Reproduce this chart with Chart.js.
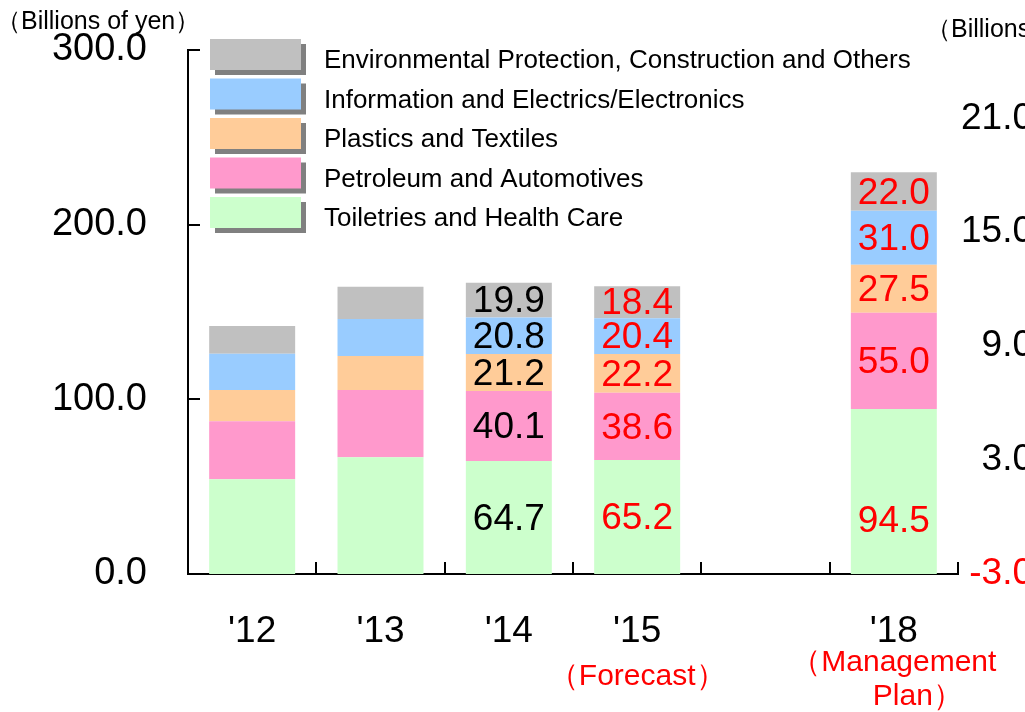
<!DOCTYPE html>
<html>
<head>
<meta charset="utf-8">
<script src="https://cdn.jsdelivr.net/npm/chart.js@4.4.1/dist/chart.umd.min.js"></script>
<style>
  html, body { margin: 0; padding: 0; overflow: hidden; background: #fff; }
  #wrap { position: relative; width: 1040px; height: 712px; }
</style>
</head>
<body>
<div id="wrap"><canvas id="c"></canvas></div>
<script>
  "use strict";

  const years = ["'12", "'13", "'14", "'15", "", "'18"];
  const yearNotes = [null, null, null, ["（Forecast）"], null, ["（Management", "Plan）"]];

  const segNames = [
    "Toiletries and Health Care",
    "Petroleum and Automotives",
    "Plastics and Textiles",
    "Information and Electrics/Electronics",
    "Environmental Protection, Construction and Others",
  ];
  const segColors = ["#CCFFCC", "#FF99CC", "#FFCC99", "#99CCFF", "#C0C0C0"];

  const toiletries = [54.2, 66.8, 64.7, 65.2, null, 94.5];
  const petroleum = [33.3, 38.5, 40.1, 38.6, null, 55.0];
  const plastics = [17.8, 19.5, 21.2, 22.2, null, 27.5];
  const electronics = [20.8, 21.2, 20.8, 20.4, null, 31.0];
  const environment = [15.9, 18.4, 19.9, 18.4, null, 22.0];

  // which years show value labels, and in what colour
  const labelColors = [null, null, "#000000", "#FF0000", null, "#FF0000"];

  const leftTicks = [0, 100, 200, 300];
  const rightTicks = [-3, 3, 9, 15, 21];

  const FONT = '"Liberation Sans", Arial, sans-serif';
  const RED = "#FF0000";

  const seriesList = [toiletries, petroleum, plastics, electronics, environment];

  const axisMarks = {
    id: "axisMarks",
    afterDatasetsDraw(chart) {
      const ctx = chart.ctx;
      const { left, bottom } = chart.chartArea;
      const y = chart.scales.y;
      const x = chart.scales.x;
      ctx.save();
      ctx.strokeStyle = "#000";
      ctx.lineWidth = 2;
      ctx.beginPath();
      leftTicks.forEach(function (v) {
        const py = Math.round(y.getPixelForValue(v));
        ctx.moveTo(left, py);
        ctx.lineTo(left + 12, py);
      });
      for (let i = 1; i <= years.length; i++) {
        const px = Math.round(x.getPixelForValue(i - 0.5));
        ctx.moveTo(px, bottom);
        ctx.lineTo(px, bottom - 12);
      }
      ctx.stroke();
      ctx.restore();
    },
  };

  const barLabels = {
    id: "barLabels",
    afterDatasetsDraw(chart) {
      const ctx = chart.ctx;
      ctx.save();
      ctx.font = "37px " + FONT;
      ctx.textAlign = "center";
      ctx.textBaseline = "middle";
      chart.data.datasets.forEach(function (ds, di) {
        const meta = chart.getDatasetMeta(di);
        meta.data.forEach(function (bar, i) {
          const col = labelColors[i];
          const v = ds.data[i];
          if (!col || v == null) return;
          // the plan year's bottom label sits a bit lower in the source
          const dy = (i === 5 && di === 0) ? 28 : 0;
          ctx.fillStyle = col;
          ctx.fillText(v.toFixed(1), bar.x, (bar.y + bar.base) / 2 + 2 + dy);
        });
      });
      ctx.restore();
    },
  };

  const extras = {
    id: "extras",
    afterDraw(chart) {
      const ctx = chart.ctx;
      const x = chart.scales.x;
      ctx.save();

      // unit captions
      ctx.fillStyle = "#000";
      ctx.font = "25px " + FONT;
      ctx.textBaseline = "middle";
      ctx.textAlign = "left";
      ctx.fillText("（Billions of yen）", -4, 22);
      ctx.fillText("（Billions of yen）", 926, 30);

      // red notes under years
      ctx.fillStyle = RED;
      ctx.font = "30px " + FONT;
      ctx.textAlign = "center";
      yearNotes.forEach(function (lines, i) {
        if (!lines) return;
        const px = x.getPixelForValue(i);
        lines.forEach(function (t, k) {
          ctx.fillText(t, px + (k === 0 ? 0 : 24), 677 + k * 34 - (lines.length > 1 ? 14 : 0));
        });
      });

      // legend, top row is the top of the stack
      ctx.font = "26px " + FONT;
      ctx.textAlign = "left";
      for (let r = 0; r < segNames.length; r++) {
        const s = segNames.length - 1 - r;
        const top = 39 + r * 39.5;
        ctx.fillStyle = "#808080";
        ctx.fillRect(215, top + 5, 91, 31);
        ctx.fillStyle = segColors[s];
        ctx.fillRect(210, top, 91, 31);
        ctx.fillStyle = "#000";
        ctx.fillText(segNames[s], 324, top + 22);
      }
      ctx.restore();
    },
  };

  function noVertPad(s) {
    s.paddingTop = 0;
    s.paddingBottom = 0;
  }

  new Chart(document.getElementById("c"), {
    type: "bar",
    data: {
      labels: years,
      datasets: seriesList.map(function (vals, i) {
        return {
          label: segNames[i],
          data: vals,
          backgroundColor: segColors[i],
          borderWidth: 0,
          categoryPercentage: 1,
          barPercentage: 0.67,
          yAxisID: "y",
        };
      }),
    },
    options: {
      responsive: true,
      maintainAspectRatio: false,
      animation: false,
      layout: { padding: { top: 50, right: 7, left: 0, bottom: 0 } },
      plugins: {
        legend: { display: false },
        tooltip: { enabled: false },
      },
      scales: {
        x: {
          stacked: true,
          grid: { display: false, drawTicks: false },
          border: { display: true, color: "#000", width: 2 },
          ticks: {
            color: "#000",
            font: { family: FONT, size: 37 },
            padding: 36,
            maxRotation: 0,
            autoSkip: false,
          },
          afterFit(s) { s.height = 138; },
        },
        y: {
          stacked: true,
          min: 0,
          max: 300,
          grid: { display: false, drawTicks: false },
          border: { display: true, color: "#000", width: 2 },
          afterBuildTicks(s) { s.ticks = leftTicks.map(function (v) { return { value: v }; }); },
          ticks: {
            color: "#000",
            font: { family: FONT, size: 38 },
            padding: 41,
            callback: function (v) { return Number(v).toFixed(1); },
          },
          afterFit(s) { s.width = 188; noVertPad(s); },
        },
        y2: {
          position: "right",
          min: -3,
          max: 24.6,
          grid: { display: false, drawTicks: false },
          border: { display: false },
          afterBuildTicks(s) { s.ticks = rightTicks.map(function (v) { return { value: v }; }); },
          ticks: {
            crossAlign: "far",
            font: { family: FONT, size: 37 },
            color: function (c) { return c.tick && c.tick.value < 0 ? RED : "#000"; },
            callback: function (v) { return Number(v).toFixed(1); },
          },
          afterFit(s) { s.width = 75; noVertPad(s); },
        },
      },
    },
    plugins: [axisMarks, barLabels, extras],
  });
</script>
</body>
</html>
